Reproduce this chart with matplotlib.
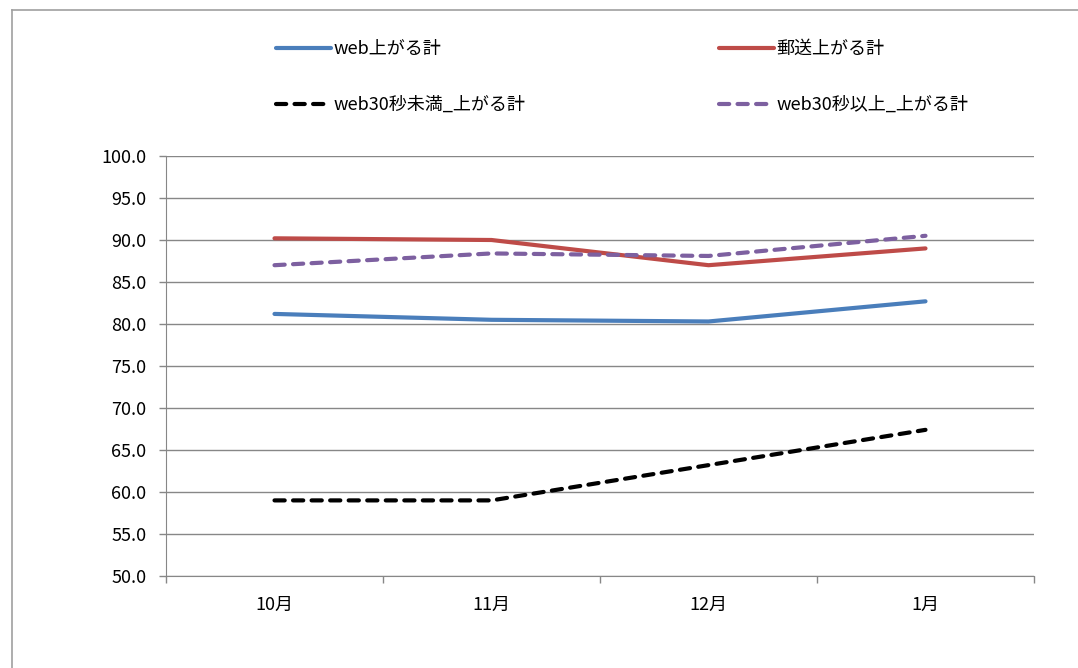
import matplotlib
matplotlib.use("Agg")
import matplotlib.pyplot as plt
from matplotlib.lines import Line2D

plt.rcParams['font.family'] = ['Noto Sans CJK JP', 'DejaVu Sans']

months = ["10月", "11月", "12月", "1月"]
web_up = [81.2, 80.5, 80.3, 82.7]
post_up = [90.2, 90.0, 87.0, 89.0]
web_under30 = [59.0, 59.0, 63.2, 67.4]
web_over30 = [87.0, 88.4, 88.1, 90.5]

labels = ["web上がる計", "郵送上がる計", "web30秒未満_上がる計", "web30秒以上_上がる計"]

FONTSIZE = 13
grid_clr = "#878787"
dash = (0, (2.45, 2.0))

fig = plt.figure(figsize=(10.78, 6.68), dpi=100)
ax = fig.add_axes([166 / 1078, 1 - 576 / 668, 868 / 1078, 420 / 668])

x = list(range(len(months)))
l1, = ax.plot(x, web_up, color="#4a7ebb", lw=3, solid_capstyle="round")
l2, = ax.plot(x, post_up, color="#be4b48", lw=3, solid_capstyle="round")
l3, = ax.plot(x, web_under30, color="black", lw=3, ls=dash,
              dash_capstyle="round")
l4, = ax.plot(x, web_over30, color="#7d60a0", lw=3, ls=dash,
              dash_capstyle="round")

ax.set_xlim(-0.5, len(months) - 0.5)
ax.set_ylim(50, 100)
ax.set_yticks([50 + 5 * i for i in range(11)])
ax.set_yticklabels([f"{50 + 5 * i:.1f}" for i in range(11)], fontsize=FONTSIZE)
ax.set_xticks(x)
ax.set_xticklabels(months, fontsize=FONTSIZE)
ax.set_xticks([i - 0.5 for i in range(len(months) + 1)], minor=True)

ax.tick_params(axis="x", which="major", length=0, pad=14)
ax.tick_params(axis="x", which="minor", length=5, width=1, color=grid_clr)
ax.tick_params(axis="y", length=5, width=1, color=grid_clr, pad=9)

ax.grid(True, axis="y", color=grid_clr, lw=1)
ax.set_axisbelow(True)
ax.spines[["top", "right"]].set_visible(False)
ax.spines[["left", "bottom"]].set_color(grid_clr)

# outer chart frame (top and left edges visible)
fig.add_artist(Line2D([12 / 1078, 1], [1 - 10 / 668, 1 - 10 / 668],
                      transform=fig.transFigure, color="#a0a0a0", lw=1.2))
fig.add_artist(Line2D([12 / 1078, 12 / 1078], [0, 1 - 10 / 668],
                      transform=fig.transFigure, color="#a0a0a0", lw=1.2))

# legend is filled column-wise, so order handles to read row-wise
fig.legend([l1, l3, l2, l4], [labels[0], labels[2], labels[1], labels[3]],
           ncol=2, frameon=False,
           loc="upper left", bbox_to_anchor=(276 / 1078, 1 - 40 / 668),
           fontsize=FONTSIZE, handlelength=3.05, handletextpad=0.15,
           columnspacing=10.7, labelspacing=2.1, borderpad=0,
           borderaxespad=0)

fig.savefig("out.png", dpi=100)
